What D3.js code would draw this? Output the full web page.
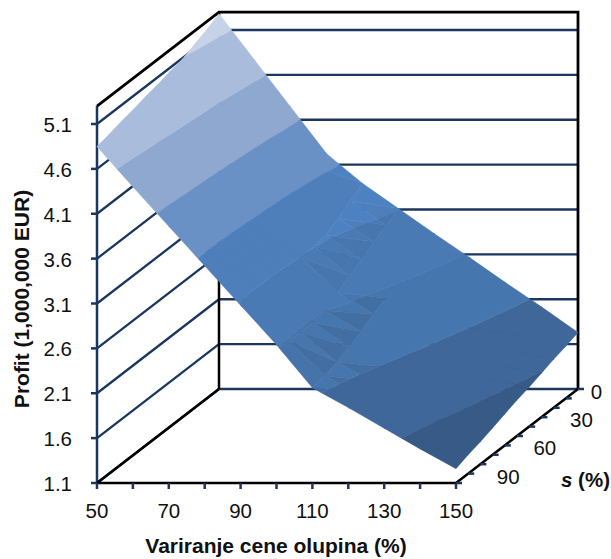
<!DOCTYPE html>
<html><head><meta charset="utf-8">
<script src="https://cdn.jsdelivr.net/npm/d3@7"></script>
<style>html,body{margin:0;padding:0;background:#fff}svg{display:block}text{font-family:"Liberation Sans",Arial,sans-serif;fill:#111}</style>
</head><body><svg id="c" width="611" height="559"></svg>
<script>
const xCats=[50,60,70,80,90,100,110,120,130,140,150];
const sCats=[0,10,20,30,40,50,60,70,80,90,100];
const xLabels=[50,70,90,110,130,150];
const sLabels=[0,30,60,90];
const zTicks=[1.1,1.6,2.1,2.6,3.1,3.6,4.1,4.6,5.1];
const s0  =[5.28,4.76,4.24,3.72,3.39,3.11,2.83,2.56,2.28,2.01,1.73];
const s10 =[5.21,4.70,4.20,3.69,3.30,3.03,2.76,2.49,2.22,1.95,1.68];
const s20 =[5.15,4.65,4.15,3.66,3.21,2.95,2.69,2.43,2.16,1.90,1.64];
const s30 =[5.09,4.60,4.11,3.62,3.13,2.86,2.61,2.35,2.10,1.84,1.59];
const s40 =[5.06,4.57,4.08,3.59,3.11,2.78,2.53,2.28,2.03,1.79,1.54];
const s50 =[5.02,4.54,4.05,3.57,3.09,2.70,2.46,2.22,1.98,1.74,1.50];
const s60 =[4.99,4.51,4.02,3.54,3.06,2.60,2.37,2.14,1.91,1.68,1.45];
const s70 =[4.95,4.47,4.00,3.52,3.05,2.57,2.30,2.08,1.85,1.63,1.40];
const s80 =[4.92,4.45,3.98,3.51,3.04,2.57,2.24,2.02,1.79,1.57,1.35];
const s90 =[4.88,4.42,3.96,3.50,3.04,2.58,2.19,1.97,1.75,1.53,1.31];
const s100=[4.85,4.40,3.96,3.52,3.08,2.64,2.16,1.94,1.71,1.48,1.26];
const rows=[s0,s10,s20,s30,s40,s50,s60,s70,s80,s90,s100];
const bandEdges=[1.1,1.6,2.1,2.6,3.1,3.6,4.1,4.6,5.1,5.6];
const bandColors=["#385A87","#3F6799","#4673A9","#4A7AB4","#4E7FBA","#6A91C6","#8FA8D0","#A9BCDC","#C5D2E8"];
const rightPlaneColors=["#385A87","#3F6799","#4676AE","#4A7AB4","#4D82C2","#6A91C6","#8FA8D0","#A9BCDC","#C5D2E8"];

const svg=d3.select("#c");
const X=d3.scaleLinear().domain([50,150]).range([97,456]);
const Z=d3.scaleLinear().domain([1.1,5.1]).range([483,124]);
const DX=d3.scaleLinear().domain([100,0]).range([0,122]);
const DY=d3.scaleLinear().domain([100,0]).range([0,-94]);
const zTop=5.3;
const P=(x,s,z)=>[X(x)+DX(s),Z(z)+DY(s)];
const navy="#1B365F";
const line=d3.line();
const poly=(pts,c,w)=>svg.append("path").attr("d",line(pts)).attr("stroke",c).attr("stroke-width",w).attr("fill","none").attr("stroke-linejoin","miter");

// gridlines on walls
zTicks.forEach(z=>{
  const a=P(50,100,z),b=P(50,0,z),c=P(150,0,z);
  poly([a,b,c],navy,2.3);
  poly([[a[0]-6,a[1]],a],navy,2.5);
});
// frame
poly([P(50,100,1.1),P(50,100,zTop)],navy,2.5);
poly([P(50,100,zTop),P(50,0,zTop),P(150,0,zTop),P(150,0,1.1)],"#000",2.8);
poly([P(50,0,1.1),P(50,0,zTop)],"#000",2.5);
poly([P(50,100,1.1),P(50,0,1.1)],"#000",2.5);
poly([P(50,100,1.1),P(150,100,1.1),P(150,0,1.1)],"#000",2.5);
// ticks
xCats.forEach(x=>{const a=P(x,100,1.1);poly([a,[a[0],a[1]+6]],navy,2.5);});
sCats.forEach(s=>{const a=P(150,s,1.1);poly([a,[a[0]+6,a[1]]],navy,2.5);});

// surface, banded by z; faces collected per shade so the mesh shows no seams
function clip(pg,test,val){
  const out=[];
  pg.forEach((p,i)=>{
    const q=pg[(i+1)%pg.length],pi=test(p[2]),qi=test(q[2]);
    if(pi)out.push(p);
    if(pi!==qi){const t=(val-p[2])/(q[2]-p[2]);out.push([p[0]+t*(q[0]-p[0]),p[1]+t*(q[1]-p[1]),val]);}
  });
  return out;
}
const bend=(i,j)=>(i<1||i>=xCats.length-1)?0:rows[j][i-1]-2*rows[j][i]+rows[j][i+1];
const faces=new Map();
for(let j=0;j<sCats.length-1;j++)for(let i=0;i<xCats.length-1;i++){
  const v=(a,b)=>[xCats[a],sCats[b],rows[b][a]];
  const A=v(i,j),B=v(i+1,j),C=v(i+1,j+1),D=v(i,j+1);
  [[A,B,D],[B,C,D]].forEach((tri,w)=>{
    const gx=w===0?(B[2]-A[2])/10:(C[2]-D[2])/10;
    const fold=w===1&&(bend(i,j+1)>=0.1||bend(i,j)>=0.1);
    const right=gx>-0.035;
    bandColors.forEach((col,k)=>{
      const lo=bandEdges[k],hi=bandEdges[k+1];
      if(Math.max(...tri.map(d=>d[2]))<lo||Math.min(...tri.map(d=>d[2]))>hi)return;
      let pg=clip(tri,z=>z>=lo,lo);
      if(pg.length)pg=clip(pg,z=>z<=hi,hi);
      if(pg.length<3)return;
      let out;
      if(k>4||k<2)out=col;
      else if(fold&&k===4)out=bandColors[4];
      else if(fold){const c=d3.color(col);out=d3.rgb(c.r*.96,c.g*.96,c.b*.96).formatHex();}
      else out=right?rightPlaneColors[k]:col;
      if(!faces.has(out))faces.set(out,"");
      faces.set(out,faces.get(out)+line(pg.map(d=>P(d[0],d[1],d[2])))+"Z");
    });
  });
}
const g=svg.append("g");
[...faces.entries()].sort((a,b)=>b[1].length-a[1].length).forEach(([c,d])=>{
  g.append("path").attr("d",d).attr("fill",c).attr("stroke",c).attr("stroke-width",0.5).attr("stroke-linejoin","round");
});

// labels
const label=(t,x,y,a)=>svg.append("text").attr("x",x).attr("y",y).attr("text-anchor",a).attr("font-size",20.5).text(t);
zTicks.forEach(z=>label(z.toFixed(1),72,Z(z)+8,"end"));
xLabels.forEach(x=>label(x,X(x),518,"middle"));
sLabels.forEach(s=>{const a=P(150,s,1.1);label(s,a[0]+(s===0?18.5:40),a[1]+10,"middle");});
svg.append("text").attr("x",276).attr("y",553).attr("text-anchor","middle").attr("font-size",21).attr("font-weight","bold").text("Variranje cene olupina (%)");
svg.append("text").attr("transform","translate(29,299) rotate(-90)").attr("text-anchor","middle").attr("font-size",21).attr("font-weight","bold").text("Profit (1,000,000 EUR)");
const st=svg.append("text").attr("x",561).attr("y",487).attr("font-size",20.5).attr("font-weight","bold");
st.append("tspan").attr("font-style","italic").text("s");
st.append("tspan").text(" (%)");
</script></body></html>
